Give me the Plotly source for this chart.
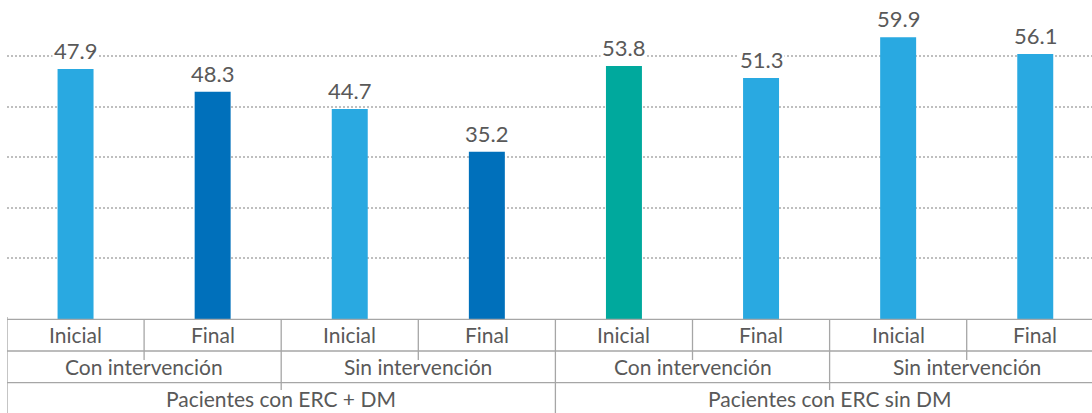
import plotly.graph_objects as go

# ---- data ----
periodo = ["Inicial", "Final", "Inicial", "Final", "Inicial", "Final", "Inicial", "Final"]
intervencion = ["Con intervención", "Sin intervención", "Con intervención", "Sin intervención"]
pacientes = ["Pacientes con ERC + DM", "Pacientes con ERC sin DM"]
alturas = [49.5, 45.0, 41.6, 33.1, 50.1, 47.7, 55.8, 52.5]      # drawn bar heights
etiquetas = ["47.9", "48.3", "44.7", "35.2", "53.8", "51.3", "59.9", "56.1"]  # printed labels
lineas_guia = [12, 22, 32, 42, 52]

# ---- style ----
colores = ["#29A9E1", "#0070BB", "#29A9E1", "#0070BB", "#00A99D", "#29A9E1", "#29A9E1", "#29A9E1"]
FONT = "Lato"
TXT = "#595959"
LINE = "#A6A6A6"
CAT_SIZE = 21

n = len(periodo)
xs = list(range(n))

fig = go.Figure(go.Bar(
    x=xs, y=alturas, marker=dict(color=colores, line=dict(width=0)),
    width=0.2625, hoverinfo="skip",
))

# value labels
for x, h, t in zip(xs, alturas, etiquetas):
    fig.add_annotation(x=x, y=h, xref="x", yref="y", text=t, showarrow=False,
                       yanchor="bottom", yshift=3, bgcolor="white", borderpad=1,
                       font=dict(family=FONT, size=22, color=TXT))

PLOT_H = 319.0
def py(p):
    return (PLOT_H - p) / PLOT_H

# horizontal table lines
for p in [319.3, 351.0, 382.7]:
    fig.add_shape(type="line", xref="paper", yref="paper", x0=0, x1=1,
                  y0=py(p), y1=py(p), line=dict(color=LINE, width=1.3))

# vertical table lines
fig.add_shape(type="line", xref="x", yref="paper", x0=-0.5, x1=-0.5,
              y0=py(317), y1=py(413), line=dict(color=LINE, width=1.3))
for k in range(n - 1):
    b = k + 0.5
    if (k + 1) % 4 == 0:
        bottom = 413
    elif (k + 1) % 2 == 0:
        bottom = 390
    else:
        bottom = 360
    fig.add_shape(type="line", xref="x", yref="paper", x0=b, x1=b,
                  y0=py(319), y1=py(bottom), line=dict(color=LINE, width=1.3))

# category labels, level 1
for x, t in zip(xs, periodo):
    fig.add_annotation(x=x, y=py(334), xref="x", yref="paper", text=t, showarrow=False,
                       yanchor="middle", font=dict(family=FONT, size=CAT_SIZE, color=TXT))
# level 2
for i, t in enumerate(intervencion):
    fig.add_annotation(x=2 * i + 0.5, y=py(366.5), xref="x", yref="paper", text=t,
                       showarrow=False, yanchor="middle",
                       font=dict(family=FONT, size=CAT_SIZE, color=TXT))
# level 3
for i, t in enumerate(pacientes):
    fig.add_annotation(x=4 * i + 1.5, y=py(398), xref="x", yref="paper", text=t,
                       showarrow=False, yanchor="middle",
                       font=dict(family=FONT, size=CAT_SIZE, color=TXT))

fig.update_layout(
    width=1092, height=413,
    margin=dict(l=7, r=0, t=0, b=94, pad=0),
    paper_bgcolor="white", plot_bgcolor="white",
    showlegend=False,
    xaxis=dict(range=[-0.5, -0.5 + 1085 / 137.1], showticklabels=False, showgrid=False,
               zeroline=False, showline=False, ticks=""),
    yaxis=dict(range=[0, PLOT_H / 5.05], tickmode="array", tickvals=lineas_guia,
               showticklabels=False,
               showgrid=True, gridcolor="#BFBFBF", griddash="2px,2px", gridwidth=1.5,
               zeroline=False, showline=False, ticks=""),
)

fig.write_html("out.html", config={"displayModeBar": False},
               post_script="document.body.style.margin='0';document.body.style.overflow='hidden';")
